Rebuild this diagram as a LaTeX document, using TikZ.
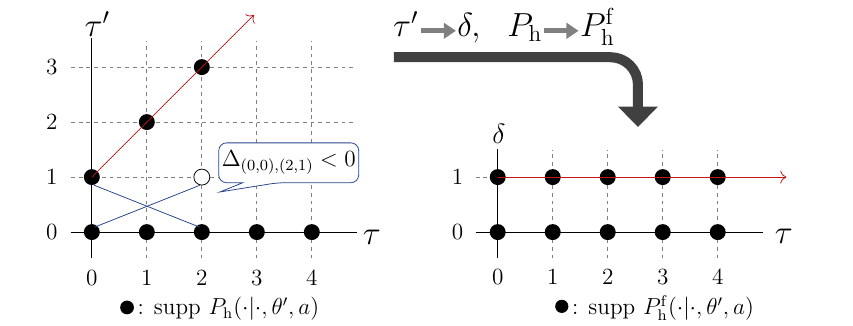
\documentclass[tikz,border=0pt]{standalone}
\usepackage{amsmath}
\usepackage{amssymb}
\usetikzlibrary{arrows.meta, calc}
\definecolor{navyline}{RGB}{40,70,140}
\definecolor{redline}{RGB}{200,20,20}
\definecolor{bigarrow}{RGB}{64,64,64}
\definecolor{smallarrow}{RGB}{128,128,128}

\begin{document}
\begin{tikzpicture}[
	gridline/.style={gray, dash pattern=on 2pt off 2pt},
	dot/.style={circle, fill=black, inner sep=0pt, minimum size=0.29cm},
	hole/.style={circle, draw=black, fill=white, inner sep=0pt, minimum size=0.29cm},
	ticklabel/.style={font=\large},
	legtext/.style={anchor=base west, inner sep=0pt, font=\large},
	grayarrow/.style={smallarrow, line width=2.6pt, -{Triangle[width=0.28cm, length=0.22cm]}}
	]
	\useasboundingbox (-1.67,-1.69) rectangle (13.84,4.22);
	% left plot
	\foreach \x in {1,...,4} \draw[gridline] (\x,-0.48) -- (\x,3.47);
	\foreach \y in {1,2,3} \draw[gridline] (-0.38,\y) -- (4.82,\y);
	\draw (-0.38,0) -- (4.82,0);
	\draw (0,-0.48) -- (0,3.53);
	\node[font=\LARGE] (taul) at (5.09,-0.09) {$\tau$};
	\node[font=\LARGE] (taupl) at (0.1,3.78) {$\tau'$};
	\foreach \x in {0,...,4} \node[ticklabel] (lx\x) at (\x,-0.83) {$\x$};
	\foreach \y in {0,...,3} \node[ticklabel] (ly\y) at (-0.73,\y) {$\y$};
	\foreach \x in {0,...,4} \node[dot] (a\x0) at (\x,0) {};
	\node[dot] (a01) at (0,1) {};
	\node[dot] (a12) at (1,2) {};
	\node[dot] (a23) at (2,3) {};
	\node[hole] (a21) at (2,1) {};
	\coordinate (redend) at (2.95,3.95);
	\draw[redline, -{To[scale=1.3]}] (a01.center) -- (redend);
	\draw[navyline] ([shift={(0.05,0.09)}]a00.center) -- (a21.257);
	\draw[navyline] (a01.285) -- ([shift={(-0.04,0.09)}]a20.center);
	% callout
	\node[minimum width=2.53cm, minimum height=0.71cm, inner sep=0pt] (note) at (3.58,1.26) {};
	\coordinate (tip) at (2.33,0.73);
	\coordinate (pb1) at (2.745,0);
	\coordinate (pb2) at (3.38,0);
	\filldraw[fill=white, draw=navyline, rounded corners=4pt] (note.north west) -- (note.north east) -- (note.south east) -- (pb2 |- note.south) [sharp corners] -- (tip) -- (pb1 |- note.south) [rounded corners=4pt] -- (note.south west) -- cycle;
	\node[font=\large] (notetext) at (note.center) {$\Delta_{(0,0),(2,1)} < 0$};
	% legend
	\coordinate (legbase) at (0,-1.5);
	\node[dot, minimum size=0.25cm] (legdotl) at (0.64,-1.37) {};
	\node[legtext, xshift=1.5pt] (legl) at (legdotl.east |- legbase) {: $\operatorname{supp}\, P_{\mathrm{h}}(\cdot|\cdot,\theta',a)$};

	% big arrow with label
	\coordinate (bigstart) at (5.49,3.18);
	\coordinate (bigend) at (9.93,1.91);
	\draw[bigarrow, line width=5.2pt, rounded corners=0.5cm, -{Triangle[width=0.7cm, length=0.37cm]}] (bigstart) -| (bigend);
	\node[font=\LARGE, anchor=base west, inner sep=0pt] (lt1) at (5.47,3.56) {$\tau'$};
	\node[font=\LARGE, anchor=base west, inner sep=0pt] (lt2) at (6.64,3.56) {$\delta,$};
	\node[font=\LARGE, anchor=base west, inner sep=0pt] (lt3) at (7.55,3.56) {$P_{\mathrm{h}}$};
	\node[font=\LARGE, anchor=base west, inner sep=0pt] (lt4) at (8.87,3.56) {$P_{\mathrm{h}}^{\mathrm{f}}$};
	\draw[grayarrow] ([shift={(0.05,0.1)}]lt1.base east) -- ([shift={(-0.02,0.1)}]lt2.base west);
	\draw[grayarrow] ([shift={(0.03,0.1)}]lt3.base east) -- ([shift={(-0.02,0.1)}]lt4.base west);

	% right plot
	\begin{scope}[xshift=7.38cm]
		\foreach \x in {1,...,4} \draw[gridline] (\x,-0.48) -- (\x,1.5);
		\draw[gridline] (-0.4,1) -- (0,1);
		\draw (-0.4,0) -- (4.82,0);
		\draw (0,-0.48) -- (0,1.51);
		\node[font=\LARGE] (taur) at (5.2,-0.07) {$\tau$};
		\node[font=\Large] (deltar) at (0.02,1.78) {$\delta$};
		\foreach \x in {0,...,4} \node[ticklabel] (rx\x) at (\x,-0.82) {$\x$};
		\foreach \y in {0,1} \node[ticklabel] (ry\y) at (-0.73,\y) {$\y$};
		\foreach \x in {0,...,4} {
			\node[dot] (b\x0) at (\x,0) {};
			\node[dot] (b\x1) at (\x,1) {};
		}
		\coordinate (redendr) at (5.25,1);
		\draw[redline, -{To[scale=1.3]}] (b01.center) -- (redendr);
		\node[dot, minimum size=0.24cm] (legdotr) at (1.165,-1.35) {};
		\node[legtext, xshift=1.5pt] (legr) at (legdotr.east |- legbase) {: $\operatorname{supp}\, P_{\mathrm{h}}^{\mathrm{f}}(\cdot|\cdot,\theta',a)$};
	\end{scope}
\end{tikzpicture}
\end{document}
